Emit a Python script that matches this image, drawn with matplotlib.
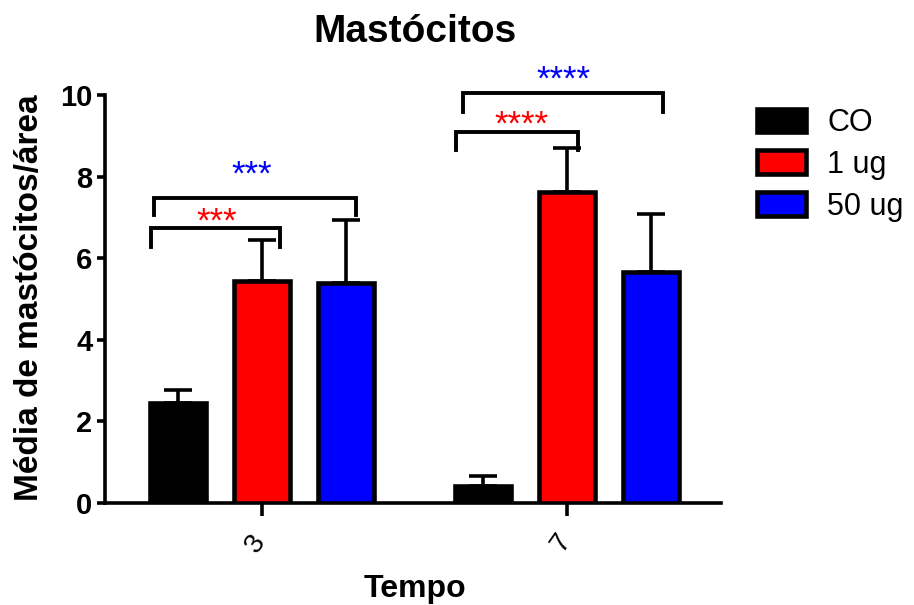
import numpy as np
import matplotlib
matplotlib.use("Agg")
import matplotlib.pyplot as plt
from matplotlib.patches import Patch
import matplotlib.transforms as mtrans

plt.rcParams['font.family'] = ['Liberation Sans', 'DejaVu Sans']

# data
tempos = ['3', '7']
grupos = ['CO', '1 ug', '50 ug']
cores = ['#000000', '#FF0000', '#0000FF']
medias = {'CO': [2.45, 0.42], '1 ug': [5.45, 7.62], '50 ug': [5.39, 5.66]}
erros = {'CO': [0.32, 0.24], '1 ug': [1.0, 1.08], '50 ug': [1.55, 1.42]}

# significance brackets
bracket_x0 = [-0.364, -0.354, 0.636, 0.659]
bracket_x1 = [0.059, 0.308, 1.036, 1.315]
bracket_ylo = [6.27, 7.06, 8.65, 9.58]
bracket_yhi = [6.74, 7.47, 9.09, 10.05]
estrelas = ['***', '***', '****', '****']
estrela_x = [-0.148, -0.033, 0.852, 0.987]
estrela_y = [6.66, 7.81, 9.04, 10.14]
estrela_cor = ['#FF0000', '#0000FF', '#FF0000', '#0000FF']

fig = plt.figure(figsize=(9.14, 6.05), dpi=100)
ax = fig.add_axes([105/914, 102/605, 616/914, 408/605])

x = np.arange(len(tempos))
offs = [-0.275, 0, 0.275]
w = 0.184
for i, g in enumerate(grupos):
    ax.bar(x + offs[i], medias[g], width=w, color=cores[i], edgecolor='black',
           linewidth=3.3, zorder=3)
    ax.errorbar(x + offs[i], medias[g], yerr=[np.zeros(2), erros[g]], fmt='none',
                ecolor='black', elinewidth=2.6, capsize=10, capthick=2.6, zorder=2)

for k in range(len(estrelas)):
    ax.plot([bracket_x0[k], bracket_x0[k], bracket_x1[k], bracket_x1[k]],
            [bracket_ylo[k], bracket_yhi[k], bracket_yhi[k], bracket_ylo[k]],
            color='black', lw=2.8, solid_joinstyle='miter', clip_on=False)
    ax.text(estrela_x[k], estrela_y[k], estrelas[k], color=estrela_cor[k],
            fontsize=25, ha='center', va='baseline', clip_on=False)

ax.set_xlim(-0.515, 1.505)
ax.set_ylim(0, 10)
ax.set_yticks([0, 2, 4, 6, 8, 10])
ax.set_xticks(x)
ax.set_xticklabels(tempos, rotation=55, fontsize=20)
ax.tick_params(axis='y', labelsize=21, width=2.6, length=6, pad=3)
ax.tick_params(axis='x', width=2.6, length=9, pad=10)
for lab in ax.get_yticklabels():
    lab.set_fontweight('bold')
desloc = mtrans.ScaledTranslation(-6/100, 0, fig.dpi_scale_trans)
for lab in ax.get_xticklabels():
    lab.set_transform(lab.get_transform() + desloc)
for s in ['top', 'right']:
    ax.spines[s].set_visible(False)
for s in ['left', 'bottom']:
    ax.spines[s].set_linewidth(2.6)

fig.text(415/914, 1 - 42/605, 'Mastócitos', fontsize=28, fontweight='bold',
         ha='center', va='baseline')
fig.text(415/914, 1 - 597/605, 'Tempo', fontsize=23, fontweight='bold',
         ha='center', va='baseline')
fig.text(30/914, 1 - 298/605, 'Média de mastócitos/área', fontsize=24,
         fontweight='bold', rotation=90, ha='center', va='center')

handles = [Patch(facecolor=cores[i], edgecolor='black', linewidth=3.3, label=g)
           for i, g in enumerate(grupos)]
fig.legend(handles=handles, loc='upper left', bbox_to_anchor=(757/914, 1 - 108/605),
           frameon=False, fontsize=22, handlelength=1.6, handleheight=0.82,
           handletextpad=0.7, labelspacing=0.39, borderpad=0, borderaxespad=0)

fig.savefig('out.png', dpi=100)
